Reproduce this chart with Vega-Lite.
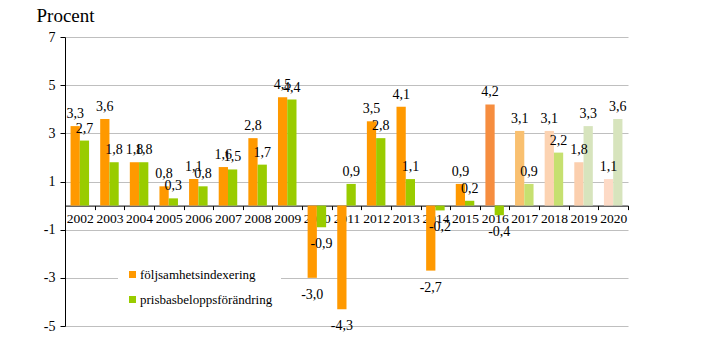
{
  "$schema": "https://vega.github.io/schema/vega-lite/v6.json",
  "width": 563,
  "height": 289,
  "autosize": "none",
  "padding": {"left": 65, "top": 37, "right": 91, "bottom": 24},
  "background": "white",
  "config": {
    "view": {"stroke": null},
    "locale": {"number": {"decimal": ",", "thousands": " ", "grouping": [3], "currency": ["", " kr"], "minus": "-"}},
    "font": "Liberation Serif"
  },
  "data": {
    "values": [
      {"year": "2002", "serie": "följsamhetsindexering", "value": 3.3},
      {"year": "2002", "serie": "prisbasbeloppsförändring", "value": 2.7},
      {"year": "2003", "serie": "följsamhetsindexering", "value": 3.6},
      {"year": "2003", "serie": "prisbasbeloppsförändring", "value": 1.8},
      {"year": "2004", "serie": "följsamhetsindexering", "value": 1.8},
      {"year": "2004", "serie": "prisbasbeloppsförändring", "value": 1.8},
      {"year": "2005", "serie": "följsamhetsindexering", "value": 0.8},
      {"year": "2005", "serie": "prisbasbeloppsförändring", "value": 0.3},
      {"year": "2006", "serie": "följsamhetsindexering", "value": 1.1},
      {"year": "2006", "serie": "prisbasbeloppsförändring", "value": 0.8},
      {"year": "2007", "serie": "följsamhetsindexering", "value": 1.6},
      {"year": "2007", "serie": "prisbasbeloppsförändring", "value": 1.5},
      {"year": "2008", "serie": "följsamhetsindexering", "value": 2.8},
      {"year": "2008", "serie": "prisbasbeloppsförändring", "value": 1.7},
      {"year": "2009", "serie": "följsamhetsindexering", "value": 4.5},
      {"year": "2009", "serie": "prisbasbeloppsförändring", "value": 4.4},
      {"year": "2010", "serie": "följsamhetsindexering", "value": -3.0},
      {"year": "2010", "serie": "prisbasbeloppsförändring", "value": -0.9},
      {"year": "2011", "serie": "följsamhetsindexering", "value": -4.3},
      {"year": "2011", "serie": "prisbasbeloppsförändring", "value": 0.9},
      {"year": "2012", "serie": "följsamhetsindexering", "value": 3.5},
      {"year": "2012", "serie": "prisbasbeloppsförändring", "value": 2.8},
      {"year": "2013", "serie": "följsamhetsindexering", "value": 4.1},
      {"year": "2013", "serie": "prisbasbeloppsförändring", "value": 1.1},
      {"year": "2014", "serie": "följsamhetsindexering", "value": -2.7},
      {"year": "2014", "serie": "prisbasbeloppsförändring", "value": -0.2},
      {"year": "2015", "serie": "följsamhetsindexering", "value": 0.9},
      {"year": "2015", "serie": "prisbasbeloppsförändring", "value": 0.2},
      {"year": "2016", "serie": "följsamhetsindexering", "value": 4.2},
      {"year": "2016", "serie": "prisbasbeloppsförändring", "value": -0.4},
      {"year": "2017", "serie": "följsamhetsindexering", "value": 3.1},
      {"year": "2017", "serie": "prisbasbeloppsförändring", "value": 0.9},
      {"year": "2018", "serie": "följsamhetsindexering", "value": 3.1},
      {"year": "2018", "serie": "prisbasbeloppsförändring", "value": 2.2},
      {"year": "2019", "serie": "följsamhetsindexering", "value": 1.8},
      {"year": "2019", "serie": "prisbasbeloppsförändring", "value": 3.3},
      {"year": "2020", "serie": "följsamhetsindexering", "value": 1.1},
      {"year": "2020", "serie": "prisbasbeloppsförändring", "value": 3.6}
    ]
  },
  "encoding": {
    "x": {
      "field": "year", "type": "nominal", "sort": null,
      "scale": {"paddingInner": 0, "paddingOuter": 0},
      "axis": {
        "orient": "bottom", "offset": -120.4, "tickBand": "extent", "title": null,
        "labelAngle": 0, "labelFont": "Liberation Serif", "labelFontSize": 13.5, "labelColor": "black",
        "labelPadding": 2, "domainColor": "black", "domainWidth": 1, "tickColor": "black", "tickSize": 4,
        "grid": false
      }
    },
    "xOffset": {"field": "serie", "type": "nominal", "scale": {"paddingInner": 0, "paddingOuter": 0.6}},
    "y": {
      "field": "value", "type": "quantitative",
      "scale": {"domain": [-5, 7], "nice": false, "zero": false},
      "axis": {
        "values": [-5, -3, -1, 1, 3, 5, 7], "format": "d", "grid": true, "gridColor": "#BFBFBF", "gridWidth": 1,
        "domainColor": "black", "tickColor": "black", "tickSize": 5,
        "labelFont": "Liberation Serif", "labelFontSize": 14, "labelColor": "black", "labelPadding": 5,
        "title": "Procent", "titleAngle": 0, "titleAlign": "left", "titleBaseline": "alphabetic",
        "titleX": -29, "titleY": -16, "titleFont": "Liberation Serif", "titleFontSize": 19,
        "titleFontWeight": "normal", "titleColor": "black"
      }
    }
  },
  "layer": [
    {
      "mark": {"type": "bar", "strokeWidth": 0},
      "encoding": {
        "color": {
          "condition": [
            {"test": "datum.year == '2016' && datum.serie == 'följsamhetsindexering'", "value": "#F68D3F"},
            {"test": "datum.year == '2017' && datum.serie == 'följsamhetsindexering'", "value": "#F9C070"},
            {"test": "datum.year == '2017' && datum.serie == 'prisbasbeloppsförändring'", "value": "#C6E070"},
            {"test": "datum.year == '2018' && datum.serie == 'följsamhetsindexering'", "value": "#FCD3B2"},
            {"test": "datum.year == '2018' && datum.serie == 'prisbasbeloppsförändring'", "value": "#C6E070"},
            {"test": "datum.year == '2019' && datum.serie == 'följsamhetsindexering'", "value": "#FBCFAE"},
            {"test": "datum.year == '2020' && datum.serie == 'följsamhetsindexering'", "value": "#FDDAC6"},
            {"test": "(datum.year == '2019' || datum.year == '2020') && datum.serie == 'prisbasbeloppsförändring'", "value": "#D7E4BD"}
          ],
          "field": "serie", "type": "nominal",
          "scale": {"domain": ["följsamhetsindexering", "prisbasbeloppsförändring"], "range": ["#FF9900", "#99CC00"]},
          "legend": {
            "orient": "none", "legendX": 53, "legendY": 223, "title": null, "fillColor": "white",
            "padding": 8, "symbolType": "square", "symbolSize": 49, "symbolStrokeWidth": 0,
            "labelFont": "Liberation Serif", "labelFontSize": 13, "labelColor": "black",
            "labelOffset": 1, "rowPadding": 11
          }
        }
      }
    },
    {
      "transform": [{"filter": "datum.value >= 0"}],
      "mark": {"type": "text", "baseline": "alphabetic", "dy": -8, "fontSize": 14, "font": "Liberation Serif", "color": "black"},
      "encoding": {"text": {"field": "value", "type": "quantitative", "format": ".1f"}}
    },
    {
      "transform": [{"filter": "datum.value < 0"}],
      "mark": {"type": "text", "baseline": "top", "dy": 10, "fontSize": 14, "font": "Liberation Serif", "color": "black"},
      "encoding": {"text": {"field": "value", "type": "quantitative", "format": ".1f"}}
    }
  ]
}
